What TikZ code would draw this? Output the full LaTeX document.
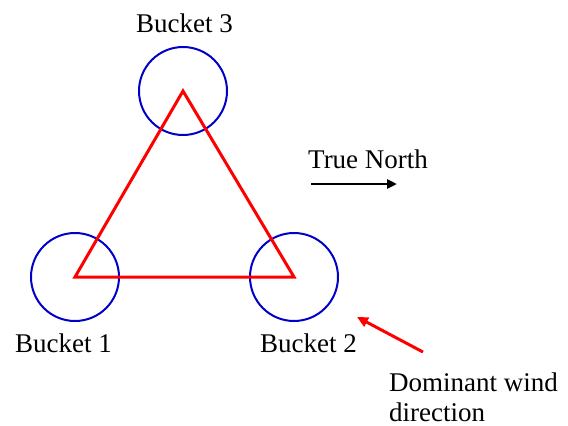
\documentclass[tikz,border=0pt]{standalone}
\usepackage{fontspec}
\setmainfont{Liberation Serif}
\usetikzlibrary{arrows.meta}
\definecolor{bucketblue}{RGB}{0,0,200}
\definecolor{trired}{RGB}{255,0,0}
\begin{document}
\begin{tikzpicture}[x=1pt,y=-1pt,
  bucket/.style={circle,draw=bucketblue,line width=2pt,minimum size=88pt,inner sep=0pt},
  lbl/.style={inner sep=0pt,anchor=base west,font=\fontsize{27}{32}\selectfont},
  tri/.style={draw=trired,line width=3pt,line join=miter},
  northarrow/.style={draw=black,line width=2.5pt,-{Triangle[length=10pt,width=9pt]}},
  windarrow/.style={draw=trired,line width=3pt,-{Triangle[length=11pt,width=10pt]}}]
\useasboundingbox (0,0) rectangle (568,426);
\node[bucket] (b1) at (75,277) {};
\node[bucket] (b2) at (294,277) {};
\node[bucket] (b3) at (183,91) {};
\draw[tri] (b1.center) -- (b2.center) -- (b3.center) -- cycle;
\node[lbl] (l3) at (136,32) {Bucket 3};
\node[lbl] (l1) at (15,352) {Bucket 1};
\node[lbl] (l2) at (260,352) {Bucket 2};
\node[lbl] (tn) at (308,168) {True North};
\node[lbl] (dw) at (389,391) {Dominant wind};
\node[lbl] (dw2) at (389,421) {direction};
\coordinate (n1) at (311,184);
\coordinate (n2) at (397,184);
\draw[northarrow] (n1) -- (n2);
\coordinate (w1) at (423,352);
\coordinate (w2) at (357,317);
\draw[windarrow] (w1) -- (w2);
\end{tikzpicture}
\end{document}
